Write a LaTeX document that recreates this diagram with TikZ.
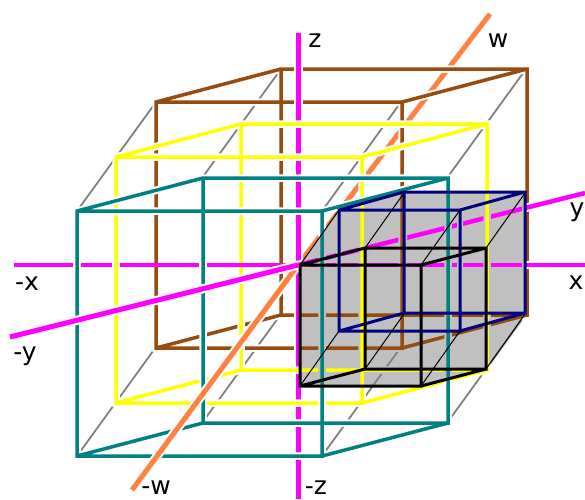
\documentclass[tikz,border=0pt]{standalone}
\usepackage{fontspec}
\setmainfont{DejaVu Sans}
\definecolor{cubeteal}{RGB}{0,128,128}
\definecolor{cubebrown}{RGB}{150,75,15}
\definecolor{cubeyellow}{RGB}{255,255,0}
\definecolor{cubenavy}{RGB}{0,0,128}
\definecolor{axisorange}{RGB}{255,128,64}
\definecolor{axismagenta}{RGB}{255,0,255}
\definecolor{cellgrey}{RGB}{192,192,192}
\def\halocolour{white}
\tikzset{
  wire/.style 2 args={draw=#1,line width=#2,preaction={draw=\halocolour,line width=#2+4pt}},
  edgeline/.style={draw=gray,line width=1.8pt},
  thinline/.style={draw=black,line width=1pt},
  axislabel/.style={anchor=base,inner sep=0pt,text=black,font=\fontsize{25}{25}\selectfont}
}
% cube: front corner x,y, size, offset of the back face
\newcommand{\cubepath}[5]{
  (#1,#2) rectangle ++(#3,#3)
  (#1+#4,#2+#5) rectangle ++(#3,#3)
  (#1,#2) -- ++(#4,#5) (#1+#3,#2) -- ++(#4,#5)
  (#1,#2+#3) -- ++(#4,#5) (#1+#3,#2+#3) -- ++(#4,#5)
}
% Grey w edges
\newcommand{\weights}{
  \foreach \dx/\dy in {0/0,245/0,0/245,245/245,125/-33,370/-33,125/212,370/212} {
    \draw[edgeline] (77+\dx,211+\dy) -- (156+\dx,102+\dy);
  }
}
\newcommand{\browncube}{\draw[wire={cubebrown}{3.5pt}] \cubepath{156}{102}{246}{125}{-33};}
% x and y on the positive side
\newcommand{\posaxes}{
  \draw[wire={axismagenta}{4.5pt}] (300,265) -- (585,265);
  \draw[wire={axismagenta}{4.5pt}] (298,265) -- (585,193);
}
\newcommand{\frontcubes}{
  \draw[wire={cubeyellow}{3.5pt}] \cubepath{116}{157}{246}{125}{-33};
  \draw[wire={cubeteal}{3.5pt}] \cubepath{77}{211}{245}{126}{-33};
}

\begin{document}
\begin{tikzpicture}[x=1pt,y=-1pt]
    \useasboundingbox (0,0) rectangle (585,499);
    % w axis, far half
    \draw[draw=axisorange,line width=5pt] (298,265) -- (490,14);
    \weights
    \browncube
    \draw[wire={axismagenta}{5pt}] (298,33) -- (298,499);
    \posaxes
    \frontcubes
    % Grey cell, the lines in it get grey gaps
    \begin{scope}
      \def\halocolour{cellgrey}
      \clip (300,386) -- (300,265) -- (339,210) -- (404,192) -- (525,192)
        -- (525,313) -- (486,368) -- (421,386) -- cycle;
      \fill[cellgrey] (290,180) rectangle (540,400);
      \weights
      \posaxes
      \draw[draw=cellgrey,line width=6pt] \cubepath{339}{210}{121}{65}{-18};
      \browncube
      \frontcubes
    \end{scope}
    % -x axis, pieces between the lines that pass over it
    \foreach \xa/\xb in {14/73,81/112,120/199,207/298} {
      \draw[draw=axismagenta,line width=4.5pt] (\xa,265) -- (\xb,265);
    }
    % Near half of w and -y
    \draw[wire={axisorange}{5pt}] (298,265) -- (132,490);
    \draw[wire={axismagenta}{5pt}] (298,265) -- (10,337);
    % Inner cubes
    \draw[draw=cubenavy,line width=3pt] \cubepath{339}{210}{121}{65}{-18};
    \draw[draw=black,line width=3pt] \cubepath{300}{265}{121}{65}{-17};
    \foreach \dx/\dy in {0/0,121/0,0/121,121/121,65/-17,186/-17,65/104,186/104} {
      \draw[thinline] (300+\dx,265+\dy) -- (339+\dx,210+\dy);
    }
    % Labels
    \node[axislabel] (zplus) at (315,47) {z};
    \node[axislabel] (wplus) at (498,47) {w};
    \node[axislabel] (xplus) at (576,289) {x};
    \node[axislabel] (yplus) at (577,216) {y};
    \node[axislabel] (xminus) at (27,290) {-x};
    \node[axislabel] (yminus) at (25,360) {-y};
    \node[axislabel] (wminus) at (156,494) {-w};
    \node[axislabel] (zminus) at (316,494) {-z};
\end{tikzpicture}
\end{document}
